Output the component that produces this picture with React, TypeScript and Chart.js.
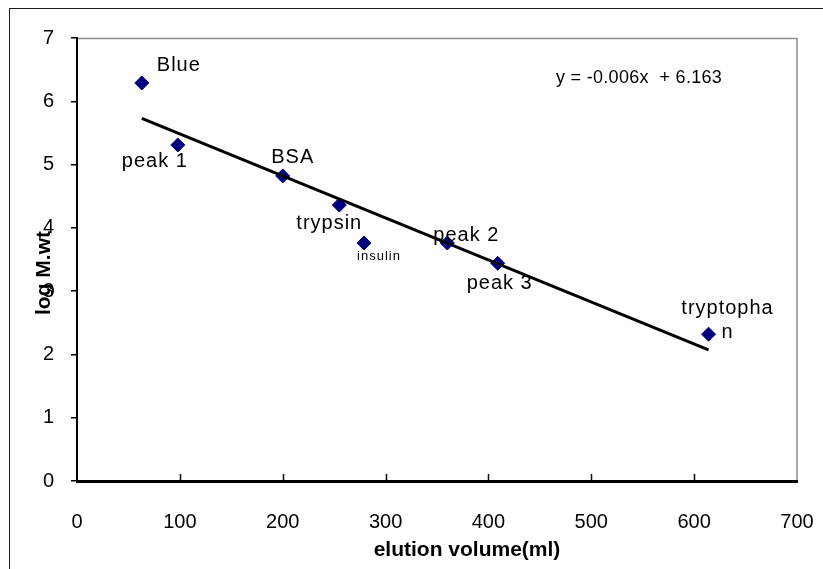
import { useEffect, useRef } from "react";
import { Chart, registerables } from "chart.js";

Chart.register(...registerables);

// ---- data ----
const compounds = ["Blue", "peak 1", "BSA", "trypsin", "insulin", "peak 2", "peak 3", "tryptophan"];
const elutionVolume = [63, 98, 200, 255, 279, 360, 409, 614];
const logMwt = [6.29, 5.31, 4.82, 4.36, 3.76, 3.76, 3.44, 2.32];
const xTickValues = [0, 100, 200, 300, 400, 500, 600, 700];
const yTickValues = [0, 1, 2, 3, 4, 5, 6, 7];
const equationText = "y = -0.006x  + 6.163";
const xAxisTitle = "elution volume(ml)";
const yAxisTitle = "log M.wt";

// ---- label styling (offsets from marker, in px) ----
const labelStyle: Record<string, { lines: string[]; dx: number; dy: number; size: number }> = {
  "Blue": { lines: ["Blue"], dx: 37, dy: -17, size: 20 },
  "peak 1": { lines: ["peak 1"], dx: -23, dy: 17, size: 20 },
  "BSA": { lines: ["BSA"], dx: 10, dy: -18, size: 20 },
  "trypsin": { lines: ["trypsin"], dx: -10, dy: 18, size: 20 },
  "insulin": { lines: ["insulin"], dx: 15, dy: 13, size: 13 },
  "peak 2": { lines: ["peak 2"], dx: 19, dy: -8, size: 20 },
  "peak 3": { lines: ["peak 3"], dx: 2, dy: 20, size: 20 },
  "tryptophan": { lines: ["tryptopha", "n"], dx: 19, dy: -26, size: 20 },
};

const FONT = "'Liberation Sans', Arial, Helvetica, sans-serif";

// least-squares trend line (as Excel's linear trendline)
function fitLine(xs: number[], ys: number[]) {
  const n = xs.length;
  const mx = xs.reduce((a, b) => a + b, 0) / n;
  const my = ys.reduce((a, b) => a + b, 0) / n;
  let sxy = 0;
  let sxx = 0;
  for (let i = 0; i < n; i++) {
    sxy += (xs[i] - mx) * (ys[i] - my);
    sxx += (xs[i] - mx) * (xs[i] - mx);
  }
  const m = sxy / sxx;
  return { m, b: my - m * mx };
}

const annotatePlugin = {
  id: "annotate",
  beforeDraw(chart: any) {
    const ctx = chart.ctx;
    const { left, top, right, bottom } = chart.chartArea;
    ctx.save();
    ctx.fillStyle = "#ffffff";
    ctx.fillRect(0, 0, chart.width, chart.height);
    // outer chart frame
    ctx.strokeStyle = "#1a1a1a";
    ctx.lineWidth = 1;
    ctx.strokeRect(9.5, 8.5, chart.width + 20, chart.height + 20);
    // plot area top/right border
    ctx.strokeStyle = "#8c8c8c";
    ctx.lineWidth = 1.5;
    ctx.beginPath();
    ctx.moveTo(left, top + 0.5);
    ctx.lineTo(right, top + 0.5);
    ctx.lineTo(right, bottom);
    ctx.stroke();
    ctx.restore();
  },
  afterDraw(chart: any) {
    const ctx = chart.ctx;
    const xs = chart.scales.x;
    const ys = chart.scales.y;
    const { left, top, bottom } = chart.chartArea;
    ctx.save();

    // inside tick marks on x axis
    ctx.strokeStyle = "#000";
    ctx.lineWidth = 1.5;
    xs.ticks.forEach((t: any) => {
      if (t.value <= xs.min || t.value >= xs.max) return;
      const px = Math.round(xs.getPixelForValue(t.value)) + 0.5;
      ctx.beginPath();
      ctx.moveTo(px, bottom);
      ctx.lineTo(px, bottom - 7);
      ctx.stroke();
    });

    // point labels
    ctx.fillStyle = "#000";
    ctx.textAlign = "center";
    ctx.textBaseline = "middle";
    compounds.forEach((name, i) => {
      const st = labelStyle[name];
      if (!st) return;
      const px = xs.getPixelForValue(elutionVolume[i]);
      const py = ys.getPixelForValue(logMwt[i]);
      ctx.font = `${st.size}px ${FONT}`;
      (ctx as any).letterSpacing = "1px";
      st.lines.forEach((line, k) => {
        ctx.fillText(line, px + st.dx, py + st.dy + k * 24);
      });
    });

    // trendline equation
    (ctx as any).letterSpacing = "0.3px";
    ctx.font = `18px ${FONT}`;
    ctx.textAlign = "left";
    ctx.fillText(equationText, left + 479, top + 40);

    // axis titles
    (ctx as any).letterSpacing = "0px";
    ctx.font = `bold 21px ${FONT}`;
    ctx.textAlign = "center";
    ctx.textBaseline = "alphabetic";
    ctx.fillText(xAxisTitle, 467, 556);

    ctx.translate(50, 273);
    ctx.rotate(-Math.PI / 2);
    ctx.fillText(yAxisTitle, 0, 0);

    ctx.restore();
  },
};

export default function App() {
  const ref = useRef<HTMLCanvasElement | null>(null);

  useEffect(() => {
    if (!ref.current) return;
    const { m, b } = fitLine(elutionVolume, logMwt);
    const xMin = Math.min(...elutionVolume);
    const xMax = Math.max(...elutionVolume);

    const chart = new Chart(ref.current, {
      type: "scatter",
      data: {
        datasets: [
          {
            label: "trend",
            data: [
              { x: xMin, y: m * xMin + b },
              { x: xMax, y: m * xMax + b },
            ],
            showLine: true,
            borderColor: "#000000",
            borderWidth: 3,
            pointRadius: 0,
            fill: false,
          },
          {
            label: "log M.wt",
            data: elutionVolume.map((x, i) => ({ x, y: logMwt[i] })),
            pointStyle: "rectRot",
            pointRadius: 7,
            pointBackgroundColor: "#000080",
            pointBorderColor: "#000080",
            pointBorderWidth: 1,
            showLine: false,
          },
        ],
      },
      options: {
        animation: false,
        responsive: false,
        devicePixelRatio: 1,
        layout: { padding: { top: 38, right: 26, left: 0, bottom: 0 } },
        plugins: {
          legend: { display: false },
          tooltip: { enabled: false },
        },
        scales: {
          x: {
            type: "linear",
            min: 0,
            max: 700,
            afterBuildTicks: (scale: any) => {
              scale.ticks = xTickValues.map((v) => ({ value: v }));
            },
            afterFit: (scale: any) => {
              scale.height = 88;
              scale.paddingLeft = 0;
              scale.paddingRight = 0;
            },
            grid: { display: false, drawTicks: false },
            border: { display: true, color: "#000", width: 3 },
            ticks: {
              color: "#000",
              font: { size: 20, family: FONT },
              padding: 29,
              maxRotation: 0,
            },
          },
          y: {
            type: "linear",
            min: 0,
            max: 7,
            afterBuildTicks: (scale: any) => {
              scale.ticks = yTickValues.map((v) => ({ value: v }));
            },
            afterFit: (scale: any) => {
              scale.width = 77;
              scale.paddingTop = 0;
              scale.paddingBottom = 0;
            },
            grid: {
              display: true,
              drawOnChartArea: false,
              drawTicks: true,
              tickLength: 6,
              color: "#000",
              lineWidth: 1.5,
            },
            border: { display: true, color: "#000", width: 2 },
            ticks: {
              color: "#000",
              font: { size: 20, family: FONT },
              padding: 17,
            },
          },
        },
      },
      plugins: [annotatePlugin],
    });
    return () => chart.destroy();
  }, []);

  return (
    <div style={{ position: "fixed", left: 0, top: 0, width: 823, height: 569, background: "#fff" }}>
      <canvas ref={ref} width={823} height={569} style={{ display: "block" }} />
    </div>
  );
}
